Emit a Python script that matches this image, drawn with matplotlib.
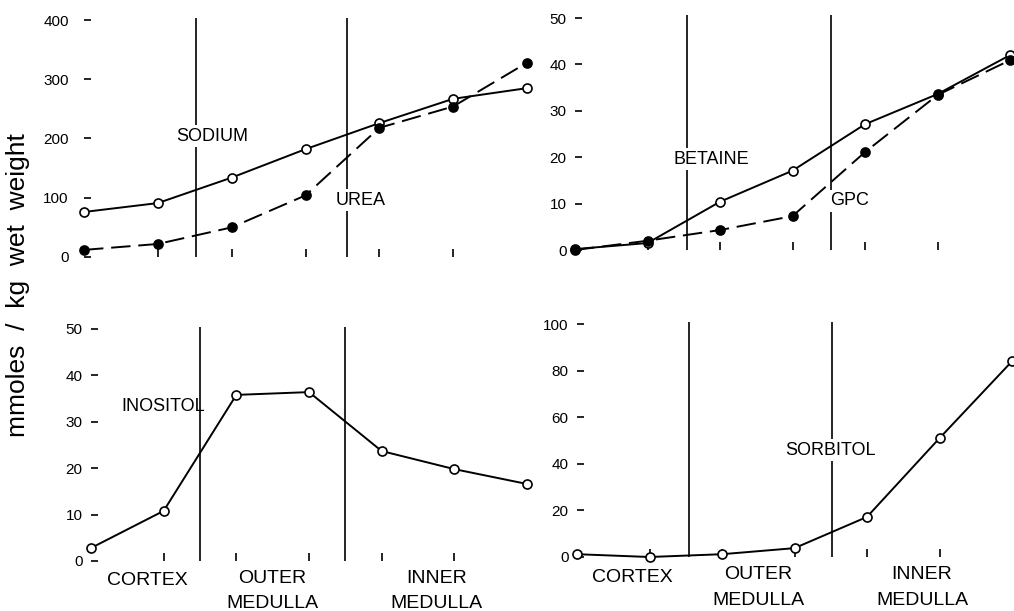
import numpy as np
import matplotlib.pyplot as plt

plt.rcParams['font.family'] = ['Liberation Sans', 'DejaVu Sans']

# sample position along the kidney, cortex -> inner medulla
pos = np.arange(7)

sodium = [76, 91, 134, 182, 226, 267, 285]
urea = [12, 22, 50, 104, 218, 254, 328]
betaine = [0.2, 1.5, 10.4, 17.1, 27.1, 33.6, 42.0]
gpc = [0.0, 2.0, 4.3, 7.3, 21.1, 33.4, 40.9]
inositol = [2.8, 10.8, 35.8, 36.4, 23.7, 19.8, 16.6]
sorbitol = [1.2, 0.0, 1.2, 3.8, 17.2, 51.0, 84.0]

W, H = 1014, 611
fig = plt.figure(figsize=(W / 100, H / 100), dpi=100)


def make_ax(x0, x6, ybot, ytop, ymax, step, ypad):
    # axes placed from pixel positions of first/last sample and of 0 / ymax
    ax = fig.add_axes([x0 / W, 1 - ybot / H, (x6 - x0) / W, (ybot - ytop) / H])
    ax.set_xlim(0, 6)
    ax.set_ylim(0, ymax)
    for s in ax.spines.values():
        s.set_visible(False)
    ax.set_yticks(np.arange(0, ymax + 1, step))
    ax.set_xticks([1, 2, 3, 4, 5])
    ax.set_xticklabels([])
    ax.tick_params(axis='y', direction='in', length=5, width=1.2, pad=ypad, labelsize=11)
    ax.tick_params(axis='x', direction='in', length=6, width=1.2)
    ax.patch.set_visible(False)
    return ax


def boundaries(ax, xs, top):
    ax.vlines(xs, 0, top, colors='black', lw=1.2, zorder=1, clip_on=False)


def series(ax, y, filled, dashed):
    ls = (0, (10, 4)) if dashed else '-'
    ax.plot(pos, y, color='black', lw=1.4, ls=ls, marker='o', ms=6.5, mew=1.2,
            mfc='black' if filled else 'white', mec='black', clip_on=False, zorder=3)


def label(ax, x, y, s, size=13, box=True):
    kw = dict(ha='center', va='center', fontsize=size, zorder=2)
    if box:
        kw['bbox'] = dict(facecolor='white', edgecolor='none', pad=2)
    ax.text(x, y, s, **kw)


def regions(ax, y_cortex, y_top, y_bottom):
    label(ax, 0.77, y_cortex, 'CORTEX', 14, False)
    label(ax, 2.5, y_top, 'OUTER', 14, False)
    label(ax, 2.5, y_bottom, 'MEDULLA', 14, False)
    label(ax, 4.76, y_top, 'INNER', 14, False)
    label(ax, 4.76, y_bottom, 'MEDULLA', 14, False)


# top left: sodium and urea
ax1 = make_ax(84, 527, 257, 20, 400, 100, 11)
boundaries(ax1, [1.52, 3.56], 404)
series(ax1, sodium, False, False)
series(ax1, urea, True, True)
label(ax1, 1.73, 204, 'SODIUM')
label(ax1, 3.74, 96, 'UREA')

# top right: betaine and GPC
ax2 = make_ax(575, 1010, 250, 18, 50, 10, 6)
boundaries(ax2, [1.545, 3.53], 50.6)
series(ax2, betaine, False, False)
series(ax2, gpc, True, True)
label(ax2, 1.88, 19.6, 'BETAINE')
label(ax2, 3.79, 10.6, 'GPC')

# bottom left: inositol
ax3 = make_ax(91, 527, 561, 329, 50, 10, 6)
boundaries(ax3, [1.5, 3.5], 50.4)
series(ax3, inositol, False, False)
label(ax3, 0.99, 33.4, 'INOSITOL', box=False)
regions(ax3, -4.3, -3.7, -9.1)

# bottom right: sorbitol
ax4 = make_ax(577, 1012, 557, 324, 100, 20, 6)
boundaries(ax4, [1.545, 3.52], 101)
series(ax4, sorbitol, False, False)
label(ax4, 3.49, 45.9, 'SORBITOL')
regions(ax4, -8.6, -7.7, -18.5)

fig.text(18 / W, 1 - 285 / H, 'mmoles  /  kg  wet  weight', rotation=90,
         ha='center', va='center', fontsize=19)

fig.savefig('out.png', dpi=100)
